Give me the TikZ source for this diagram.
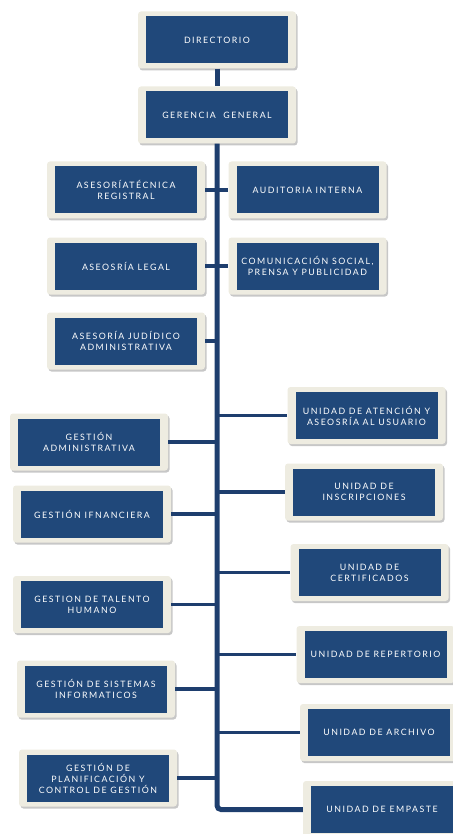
\documentclass[tikz,border=0pt]{standalone}
\usepackage{fontspec}
\setmainfont{Lato}[LetterSpace=17]
\usetikzlibrary{shadows}
\definecolor{boxblue}{RGB}{32,72,122}
\definecolor{lineblue}{RGB}{30,62,110}
\definecolor{cream}{RGB}{238,236,225}
\tikzset{
  outerbox/.style={fill=cream, rounded corners=3pt, minimum width=158pt, minimum height=57pt, inner sep=0pt,
    drop shadow={shadow xshift=1.5pt, shadow yshift=-2pt, fill=black, opacity=0.22}},
  innerbox/.style={fill=boxblue, minimum width=142pt, minimum height=47pt, inner sep=0pt, text=white,
    align=center, font=\fontsize{8.8}{11}\selectfont},
  trunk/.style={draw=lineblue, line width=5pt},
  conn/.style={draw=lineblue, line width=3.5pt},
}
\newcommand\orgbox[4]{%
  \node[outerbox] (#1) at (#2,#3) {};
  \node[innerbox] (#1-t) at (#1) {#4};
}
\begin{document}
\begin{tikzpicture}[x=1pt,y=-1pt]
\useasboundingbox (0,0) rectangle (452,834);
\orgbox{dir}{217}{40}{DIRECTORIO}
\orgbox{ger}{217}{115}{GERENCIA \ GENERAL}
\orgbox{ate}{126}{190}{ASESORÍATÉCNICA\\REGISTRAL}
\orgbox{aud}{307.5}{190}{AUDITORIA INTERNA}
\orgbox{leg}{126}{266}{ASEOSRÍA LEGAL}
\orgbox{com}{307.5}{266}{COMUNICACIÓN SOCIAL,\\PRENSA Y PUBLICIDAD}
\orgbox{jud}{126}{341}{ASESORÍA JUDÍDICO\\ADMINISTRATIVA}
\orgbox{uat}{366.5}{415.5}{UNIDAD DE ATENCIÓN Y\\ASEOSRÍA AL USUARIO}
\orgbox{gad}{89}{442}{GESTIÓN\\ADMINISTRATIVA}
\orgbox{ins}{364}{492}{UNIDAD DE\\INSCRIPCIONES}
\orgbox{gfi}{92}{514}{GESTIÓN IFNANCIERA}
\orgbox{cer}{369.5}{572.5}{UNIDAD DE\\CERTIFICADOS}
\orgbox{tal}{92}{604.5}{GESTION DE TALENTO\\HUMANO}
\orgbox{rep}{375.5}{654.5}{UNIDAD DE REPERTORIO}
\orgbox{sis}{96}{689}{GESTIÓN DE SISTEMAS\\INFORMATICOS}
\orgbox{arc}{379}{732.5}{UNIDAD DE ARCHIVO}
\orgbox{pla}{98}{778}{GESTIÓN DE\\PLANIFICACIÓN Y\\CONTROL DE GESTIÓN}
\orgbox{emp}{382}{809.5}{UNIDAD DE EMPASTE}
% trunk
\draw[trunk] (dir.south) -- (ger.north);
\draw[trunk, rounded corners=4pt] (ger.south) |- (emp.west);
% left branches
\foreach \b in {ate,leg,jud,gad,gfi,tal,sis,pla}
  \draw[conn] (\b.east) -- (\b.east -| dir.south);
% right branches
\foreach \b in {aud,com,uat,ins,cer,rep,arc}
  \draw[conn] (\b.west -| dir.south) -- (\b.west);
\end{tikzpicture}
\end{document}
